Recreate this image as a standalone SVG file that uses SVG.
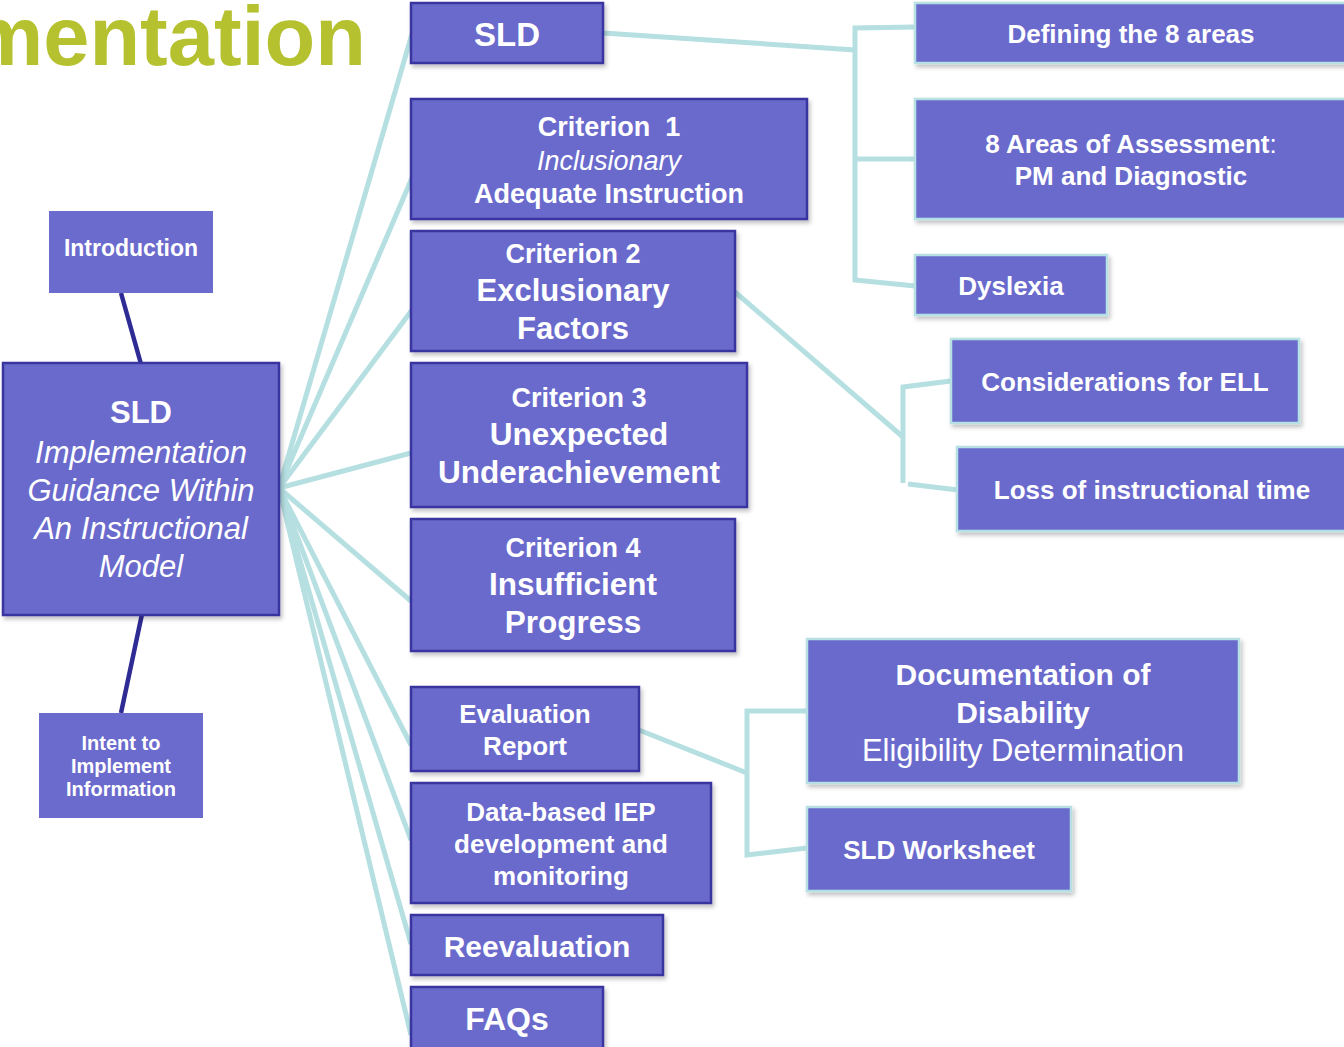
<svg xmlns="http://www.w3.org/2000/svg" width="1344" height="1047" viewBox="0 0 1344 1047">
<defs>
<filter id="sh" x="-10%" y="-10%" width="130%" height="140%">
<feDropShadow dx="2" dy="3" stdDeviation="2" flood-color="#000" flood-opacity="0.25"/>
</filter>
<style>
.n{fill:#6b6acd;stroke:#3935a0;stroke-width:2.5;filter:url(#sh)}
.r{fill:#6b6acd;stroke:#b6e0e3;stroke-width:2.5;filter:url(#sh)}
.p{fill:#6b6acd;stroke:none}
text{font-family:"Liberation Sans",Arial,sans-serif;fill:#fff;text-anchor:middle;font-weight:bold}
.it{font-style:italic;font-weight:normal}
.nw{font-weight:normal}
.c{fill:none;stroke:#b5dfe1;stroke-width:5;stroke-linejoin:miter}
.d{fill:none;stroke:#2f2b95;stroke-width:4.5}
</style>
</defs>
<rect width="1344" height="1047" fill="#fff"/>
<text x="366" y="65" style="font-size:83px;fill:#b5c12e;text-anchor:end">mentation</text>

<g id="connectors">
<line class="d" x1="121" y1="293" x2="141" y2="364"/>
<line class="d" x1="142" y1="614" x2="121" y2="713"/>
<path class="c" d="M279 488 L412 34"/>
<path class="c" d="M279 488 L412 178"/>
<path class="c" d="M279 488 L412 310"/>
<path class="c" d="M279 488 L411 453"/>
<path class="c" d="M279 488 L411 601"/>
<path class="c" d="M279 488 L411 745"/>
<path class="c" d="M279 488 L411 840"/>
<path class="c" d="M279 488 L411 944"/>
<path class="c" d="M279 488 L411 1035"/>
<path class="c" d="M603 33 L855 50"/>
<path class="c" d="M915 27 L855 28 L855 280 L915 286"/>
<path class="c" d="M855 159 L915 159"/>
<path class="c" d="M735 292 L903 437"/>
<path class="c" d="M951 381 L903 387 L903 483"/>
<path class="c" d="M908 484 L958 490"/>
<path class="c" d="M639 730 L747 773"/>
<path class="c" d="M807 711 L747 711 L747 855 L807 848"/>
</g>

<g id="main"><rect class="n" x="3" y="363" width="276" height="252"/>
<text x="141" y="423" style="font-size:31px">SLD</text>
<text class="it" x="141" y="463" style="font-size:31px">Implementation</text>
<text class="it" x="141" y="501" style="font-size:31px">Guidance Within</text>
<text class="it" x="141" y="539" style="font-size:31px">An Instructional</text>
<text class="it" x="141" y="577" style="font-size:31px">Model</text></g>

<g id="intro"><rect class="p" x="49" y="211" width="164" height="82"/>
<text x="131" y="256" style="font-size:23px">Introduction</text></g>

<g id="intent"><rect class="p" x="39" y="713" width="164" height="105"/>
<text x="121" y="750" style="font-size:20px">Intent to</text>
<text x="121" y="773" style="font-size:20px">Implement</text>
<text x="121" y="796" style="font-size:20px">Information</text></g>

<g id="sld"><rect class="n" x="411" y="3" width="192" height="60"/>
<text x="507" y="46" style="font-size:33px">SLD</text></g>

<g id="crit1"><rect class="n" x="411" y="99" width="396" height="120"/>
<text x="609" y="136" style="font-size:27px" xml:space="preserve">Criterion  1</text>
<text class="it" x="609" y="170" style="font-size:27px">Inclusionary</text>
<text x="609" y="203" style="font-size:27px">Adequate Instruction</text></g>

<g id="crit2"><rect class="n" x="411" y="231" width="324" height="120"/>
<text x="573" y="263" style="font-size:27px">Criterion 2</text>
<text x="573" y="301" style="font-size:31px">Exclusionary</text>
<text x="573" y="339" style="font-size:31px">Factors</text></g>

<g id="crit3"><rect class="n" x="411" y="363" width="336" height="144"/>
<text x="579" y="407" style="font-size:27px">Criterion 3</text>
<text x="579" y="445" style="font-size:31.5px">Unexpected</text>
<text x="579" y="483" style="font-size:31.5px">Underachievement</text></g>

<g id="crit4"><rect class="n" x="411" y="519" width="324" height="132"/>
<text x="573" y="557" style="font-size:27px">Criterion 4</text>
<text x="573" y="595" style="font-size:31.5px">Insufficient</text>
<text x="573" y="633" style="font-size:31.5px">Progress</text></g>

<g id="eval"><rect class="n" x="411" y="687" width="228" height="84"/>
<text x="525" y="723" style="font-size:26px">Evaluation</text>
<text x="525" y="755" style="font-size:26px">Report</text></g>

<g id="iep"><rect class="n" x="411" y="783" width="300" height="120"/>
<text x="561" y="821" style="font-size:26px">Data-based IEP</text>
<text x="561" y="853" style="font-size:26px">development and</text>
<text x="561" y="885" style="font-size:26px">monitoring</text></g>

<g id="reeval"><rect class="n" x="411" y="915" width="252" height="60"/>
<text x="537" y="957" style="font-size:30px">Reevaluation</text></g>

<g id="faqs"><rect class="n" x="411" y="987" width="192" height="66"/>
<text x="507" y="1030" style="font-size:32px">FAQs</text></g>

<g id="defining"><rect class="r" x="915" y="3" width="440" height="60"/>
<text x="1131" y="43" style="font-size:26px">Defining the 8 areas</text></g>

<g id="areas"><rect class="r" x="915" y="99" width="440" height="120"/>
<text x="1131" y="153" style="font-size:26px"><tspan style="font-weight:bold">8 Areas of Assessment</tspan><tspan class="nw">:</tspan></text>
<text x="1131" y="185" style="font-size:26px">PM and Diagnostic</text></g>

<g id="dyslexia"><rect class="r" x="915" y="255" width="192" height="60"/>
<text x="1011" y="295" style="font-size:26px">Dyslexia</text></g>

<g id="ell"><rect class="r" x="951" y="339" width="348" height="84"/>
<text x="1125" y="391" style="font-size:26px">Considerations for ELL</text></g>

<g id="loss"><rect class="r" x="957" y="447" width="400" height="84"/>
<text x="1152" y="499" style="font-size:26px">Loss of instructional time</text></g>

<g id="doc"><rect class="r" x="807" y="639" width="432" height="144"/>
<text x="1023" y="685" style="font-size:30px">Documentation of</text>
<text x="1023" y="723" style="font-size:30px">Disability</text>
<text class="nw" x="1023" y="761" style="font-size:31px">Eligibility Determination</text></g>

<g id="worksheet"><rect class="r" x="807" y="807" width="264" height="84"/>
<text x="939" y="859" style="font-size:26px">SLD Worksheet</text></g>
</svg>
